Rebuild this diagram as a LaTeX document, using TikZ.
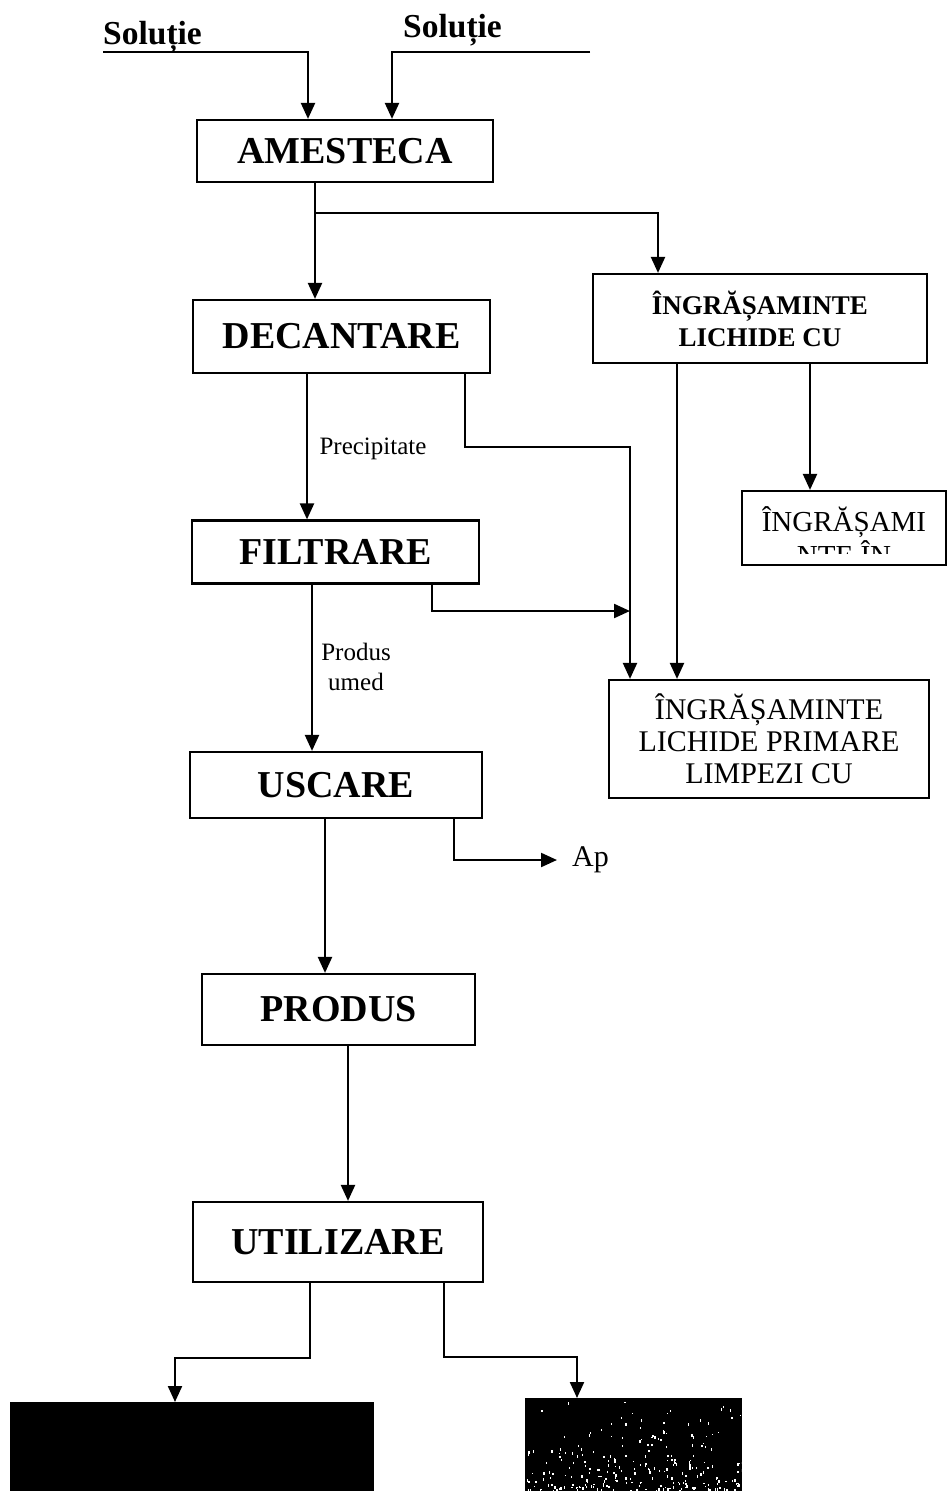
\documentclass[tikz,border=0pt]{standalone}
\usepackage{fontspec}
\setmainfont{Liberation Serif}
\usetikzlibrary{arrows.meta}
\begin{document}
\begin{tikzpicture}[x=1pt,y=-1pt,
  box/.style={draw, line width=2.2pt, inner sep=0pt, align=center},
  bigbox/.style={box, font=\fontsize{38}{44}\selectfont\bfseries},
  smallbox/.style={box, font=\fontsize{30}{32}\selectfont},
  flow/.style={line width=2.2pt},
  arr/.style={flow, -{Triangle[length=16pt,width=14pt]}},
  lbl/.style={inner sep=0pt, align=center, font=\fontsize{25}{30}\selectfont},
  feed/.style={inner sep=0pt, font=\fontsize{33.5}{36}\selectfont\bfseries}]
\useasboundingbox (0,0) rectangle (948,1491);

% feed labels
\node[feed, anchor=base west] (sol1) at (103,44) {Soluție};
\node[feed, anchor=base west] (sol2) at (403,37) {Soluție};
\coordinate (f1) at (103,52);
\coordinate (f2) at (590,52);

% process boxes
\node[bigbox, minimum width=296, minimum height=62] (ame) at (345,151) {AMESTECA};
\node[bigbox, minimum width=297, minimum height=73] (dec) at (341.5,336.5) {DECANTARE};
\node[box, font=\fontsize{27}{32}\selectfont\bfseries, minimum width=334, minimum height=89] (ing) at (760,318.5) {ÎNGRĂȘAMINTE\\LICHIDE CU};
\node[bigbox, minimum width=287, minimum height=63] (fil) at (335.5,552) {FILTRARE};
\node[box, minimum width=204, minimum height=74] (ingb) at (844,528) {};
\node[smallbox, minimum width=320, minimum height=118] (prim) at (769,739) {ÎNGRĂȘAMINTE\\LICHIDE PRIMARE\\LIMPEZI CU};
\node[bigbox, minimum width=292, minimum height=66] (usc) at (336,785) {USCARE};
\node[bigbox, minimum width=273, minimum height=71] (prod) at (338.5,1009.5) {PRODUS};
\node[bigbox, minimum width=290, minimum height=80] (util) at (338,1242) {UTILIZARE};
\node[draw, fill=black, line width=0pt, inner sep=0pt, minimum width=363, minimum height=89] (blk) at (191.5,1446.5) {};
\node[draw, fill=black, line width=0pt, inner sep=0pt, minimum width=216, minimum height=93] (tex) at (633,1444.5) {};

% text of the narrow box, cut off at its lower edge
\begin{scope}
  \clip (742,491) rectangle (946,553);
  \node[inner sep=0pt, font=\fontsize{29}{32}\selectfont, anchor=base] (ingt1) at (844,531) {ÎNGRĂȘAMI};
  \node[inner sep=0pt, font=\fontsize{29}{32}\selectfont, anchor=base] (ingt2) at (844,565) {NTE ÎN};
\end{scope}

% speckled surface
\begin{scope}
  \clip (tex.north west) rectangle (tex.south east);
  \pgfmathsetseed{42}
  \foreach \i in {1,...,260}{
    \pgfmathsetmacro{\px}{525+216*rnd}
    \pgfmathsetmacro{\py}{1491-93*rnd*rnd}
    \fill[white] (\px,\py) rectangle ++(0.8+1.2*rnd,1+2.2*rnd);
  }
\end{scope}

% side labels
\node[lbl] (prec) at (373,449) {Precipitate};
\node[lbl] (umed) at (356,667) {Produs\\umed};
\node[inner sep=0pt, anchor=west, font=\fontsize{30}{34}\selectfont] (ap) at (572,860) {Ap};

% junctions
\coordinate (j1) at (315,213);
\coordinate (j2) at (630,447);
\coordinate (j3) at (630,611);
\coordinate (k1) at (310,1358);
\coordinate (k2) at (444,1357);

% connectors
\draw[arr] (f1) -| ([xshift=-37]ame.north);
\draw[arr] (f2) -| ([xshift=47]ame.north);
\draw[arr] ([xshift=-30]ame.south) -- ([xshift=-26.5]dec.north);
\draw[arr] (j1) -| ([xshift=-102]ing.north);
\draw[arr] ([xshift=-34.5]dec.south) -- ([xshift=-28.5]fil.north);
\draw[arr] ([xshift=123.5]dec.south) |- (j2) -- ([xshift=-139]prim.north);
\draw[arr] ([xshift=96.5]fil.south) |- (j3);
\draw[arr] ([xshift=-23.5]fil.south) -- ([xshift=-24]usc.north);
\draw[arr] ([xshift=-83]ing.south) -- ([xshift=-92]prim.north);
\draw[arr] ([xshift=50]ing.south) -- ([xshift=-34]ingb.north);
\draw[arr] ([xshift=118]usc.south) |- ([xshift=-15]ap.west);
\draw[arr] ([xshift=-11]usc.south) -- ([xshift=-13.5]prod.north);
\draw[arr] ([xshift=9.5]prod.south) -- ([xshift=10]util.north);
\draw[arr] ([xshift=-28]util.south) -- (k1) -| ([xshift=-16.5]blk.north);
\draw[arr] ([xshift=106]util.south) -- (k2) -| ([xshift=-56]tex.north);
\end{tikzpicture}
\end{document}
